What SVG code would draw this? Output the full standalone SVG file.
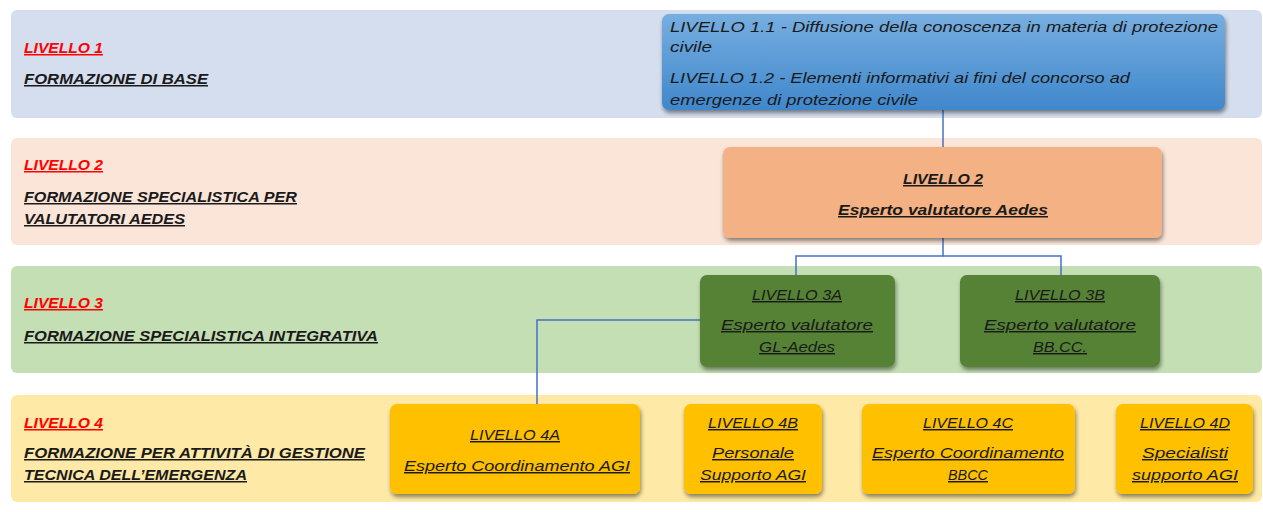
<svg xmlns="http://www.w3.org/2000/svg" width="1263" height="512" viewBox="0 0 1263 512">
<defs>
<filter id="sh" x="-10%" y="-10%" width="125%" height="130%">
<feDropShadow dx="1" dy="3" stdDeviation="2" flood-color="#000" flood-opacity="0.45"/>
</filter>
<linearGradient id="blue" x1="0" y1="0" x2="0" y2="1">
<stop offset="0" stop-color="#77aee0"/>
<stop offset="1" stop-color="#3f87cc"/>
</linearGradient>
<style>
text{font-family:"Liberation Sans","DejaVu Sans",sans-serif;font-style:italic;text-decoration:underline}
.lab{font-size:15px;font-weight:bold;fill:#1a1a1a}
.red{font-size:15px;font-weight:bold;fill:#ff0000}
.bt{font-size:14.5px;fill:#1a1a1a;text-decoration:none}
.nt{font-size:14.5px;fill:#1a1a1a;text-anchor:middle}
.nb{font-size:15px;font-weight:bold;fill:#1a1a1a;text-anchor:middle}
.conn{fill:none;stroke:#4472c4;stroke-width:1.5}
</style>
</defs>
<rect width="1263" height="512" fill="#ffffff"/>
<g id="bands">
<rect x="11" y="10" width="1251" height="108" rx="6" fill="#d4deee"/>
<rect x="11" y="138" width="1251" height="107" rx="6" fill="#fae5d8"/>
<rect x="11" y="266" width="1251" height="107" rx="6" fill="#c5dfb5"/>
<rect x="11" y="395" width="1251" height="107" rx="6" fill="#fee9a6"/>
</g>
<g id="band-labels">
<text class="red" x="24" y="53" textLength="79" lengthAdjust="spacingAndGlyphs">LIVELLO 1</text>
<text class="lab" x="24" y="84" textLength="184" lengthAdjust="spacingAndGlyphs">FORMAZIONE DI BASE</text>
<text class="red" x="24" y="170" textLength="79" lengthAdjust="spacingAndGlyphs">LIVELLO 2</text>
<text class="lab" x="24" y="202" textLength="273" lengthAdjust="spacingAndGlyphs">FORMAZIONE SPECIALISTICA PER</text>
<text class="lab" x="24" y="224" textLength="161" lengthAdjust="spacingAndGlyphs">VALUTATORI AEDES</text>
<text class="red" x="24" y="308" textLength="79" lengthAdjust="spacingAndGlyphs">LIVELLO 3</text>
<text class="lab" x="24" y="341" textLength="354" lengthAdjust="spacingAndGlyphs">FORMAZIONE SPECIALISTICA INTEGRATIVA</text>
<text class="red" x="24" y="428" textLength="79" lengthAdjust="spacingAndGlyphs">LIVELLO 4</text>
<text class="lab" x="24" y="458" textLength="341" lengthAdjust="spacingAndGlyphs">FORMAZIONE PER ATTIVITÀ DI GESTIONE</text>
<text class="lab" x="24" y="480" textLength="223" lengthAdjust="spacingAndGlyphs">TECNICA DELL’EMERGENZA</text>
</g>
<g id="connectors">
<line class="conn" x1="943" y1="110" x2="943" y2="147"/>
<polyline class="conn" points="943,238 943,256 796,256 796,275"/>
<polyline class="conn" points="943,256 1061,256 1061,275"/>
<polyline class="conn" points="700,320 537,320 537,404"/>
</g>
<g id="node-1">
<rect x="662" y="14" width="563" height="96" rx="7" fill="url(#blue)" filter="url(#sh)"/>
<text class="bt" x="670" y="32" textLength="548" lengthAdjust="spacingAndGlyphs">LIVELLO 1.1 - Diffusione della conoscenza in materia di protezione</text>
<text class="bt" x="670" y="52" textLength="42" lengthAdjust="spacingAndGlyphs">civile</text>
<text class="bt" x="670" y="83" textLength="460" lengthAdjust="spacingAndGlyphs">LIVELLO 1.2 - Elementi informativi ai fini del concorso ad</text>
<text class="bt" x="670" y="105" textLength="248" lengthAdjust="spacingAndGlyphs">emergenze di protezione civile</text>
</g>
<g id="node-2">
<rect x="723" y="147" width="439" height="91" rx="7" fill="#f4b183" filter="url(#sh)"/>
<text class="nb" x="943" y="184" textLength="80" lengthAdjust="spacingAndGlyphs">LIVELLO 2</text>
<text class="nb" x="943" y="215" textLength="210" lengthAdjust="spacingAndGlyphs">Esperto valutatore Aedes</text>
</g>
<g id="node-3a">
<rect x="700" y="275" width="195" height="92" rx="7" fill="#548235" filter="url(#sh)"/>
<text class="nt" x="797" y="300" textLength="90" lengthAdjust="spacingAndGlyphs">LIVELLO 3A</text>
<text class="nt" x="797" y="330" textLength="152" lengthAdjust="spacingAndGlyphs">Esperto valutatore</text>
<text class="nt" x="797" y="352" textLength="76" lengthAdjust="spacingAndGlyphs">GL-Aedes</text>
</g>
<g id="node-3b">
<rect x="960" y="275" width="200" height="92" rx="7" fill="#548235" filter="url(#sh)"/>
<text class="nt" x="1060" y="300" textLength="90" lengthAdjust="spacingAndGlyphs">LIVELLO 3B</text>
<text class="nt" x="1060" y="330" textLength="152" lengthAdjust="spacingAndGlyphs">Esperto valutatore</text>
<text class="nt" x="1060" y="352" textLength="54" lengthAdjust="spacingAndGlyphs">BB.CC.</text>
</g>
<g id="node-4a">
<rect x="390" y="404" width="250" height="90" rx="7" fill="#ffc000" filter="url(#sh)"/>
<text class="nt" x="515" y="440" textLength="90" lengthAdjust="spacingAndGlyphs">LIVELLO 4A</text>
<text class="nt" x="517" y="471" textLength="226" lengthAdjust="spacingAndGlyphs">Esperto Coordinamento AGI</text>
</g>
<g id="node-4b">
<rect x="684" y="404" width="138" height="90" rx="7" fill="#ffc000" filter="url(#sh)"/>
<text class="nt" x="753" y="428" textLength="90" lengthAdjust="spacingAndGlyphs">LIVELLO 4B</text>
<text class="nt" x="753" y="458" textLength="82" lengthAdjust="spacingAndGlyphs">Personale</text>
<text class="nt" x="753" y="480" textLength="106" lengthAdjust="spacingAndGlyphs">Supporto AGI</text>
</g>
<g id="node-4c">
<rect x="862" y="404" width="213" height="90" rx="7" fill="#ffc000" filter="url(#sh)"/>
<text class="nt" x="968" y="428" textLength="90" lengthAdjust="spacingAndGlyphs">LIVELLO 4C</text>
<text class="nt" x="968" y="458" textLength="192" lengthAdjust="spacingAndGlyphs">Esperto Coordinamento</text>
<text class="nt" x="968" y="480" textLength="40" lengthAdjust="spacingAndGlyphs">BBCC</text>
</g>
<g id="node-4d">
<rect x="1116" y="404" width="137" height="90" rx="7" fill="#ffc000" filter="url(#sh)"/>
<text class="nt" x="1185" y="428" textLength="90" lengthAdjust="spacingAndGlyphs">LIVELLO 4D</text>
<text class="nt" x="1185" y="458" textLength="86" lengthAdjust="spacingAndGlyphs">Specialisti</text>
<text class="nt" x="1185" y="480" textLength="106" lengthAdjust="spacingAndGlyphs">supporto AGI</text>
</g>
</svg>
